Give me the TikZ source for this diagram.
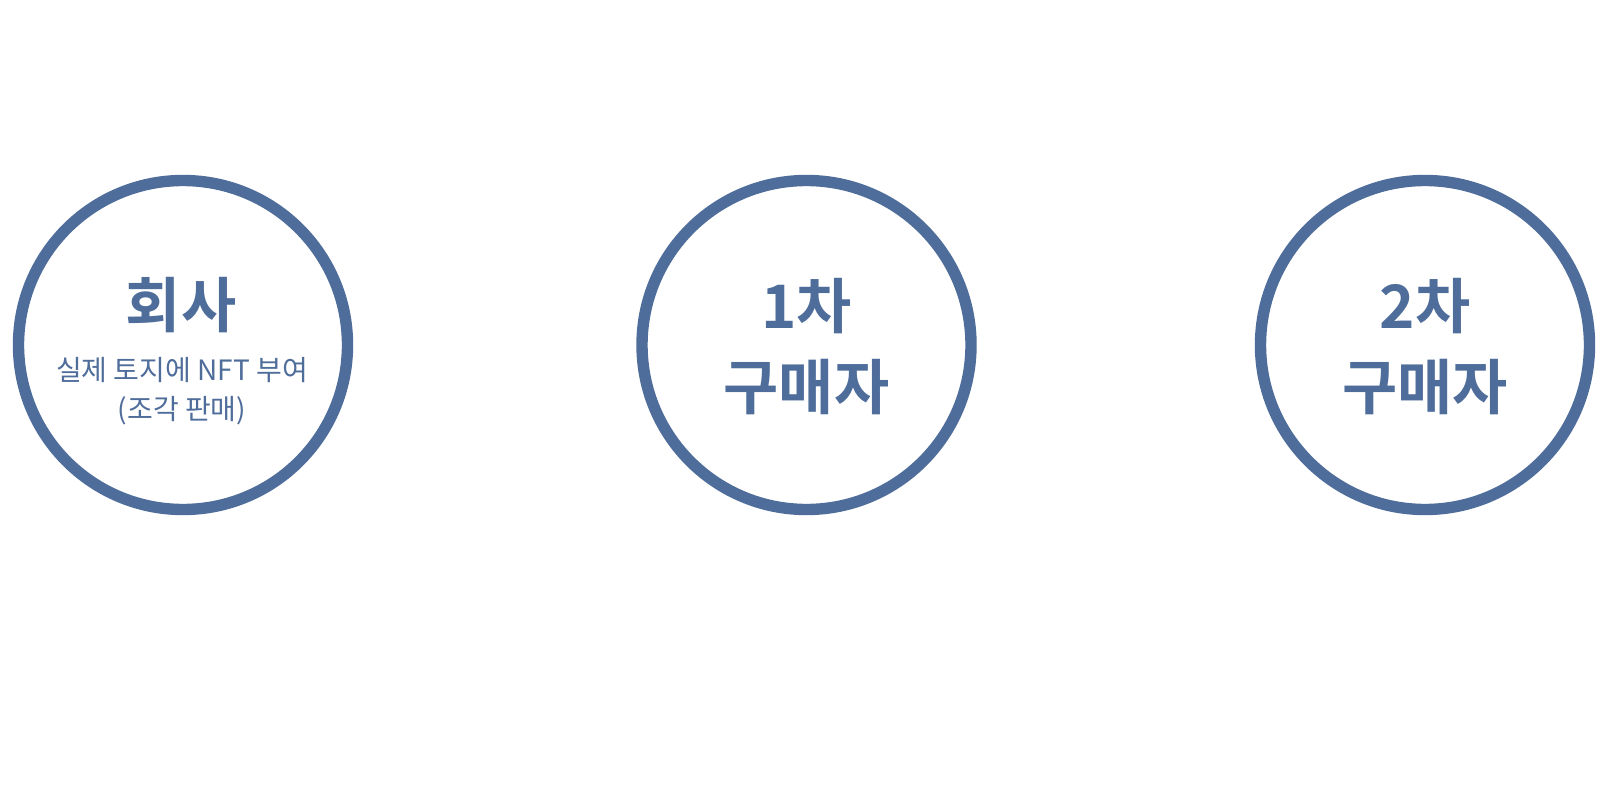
\documentclass[tikz,border=0pt]{standalone}
\usepackage{fontspec}
\newfontfamily\krbold{Noto Sans CJK KR Bold}
\newfontfamily\krreg{Noto Sans CJK KR}
\definecolor{ringblue}{RGB}{79,109,154}
\begin{document}
\begin{tikzpicture}[x=1pt,y=-1pt,
  ring/.style={circle,draw=ringblue,line width=11.4pt,minimum size=329pt,inner sep=0pt},
  title/.style={text=ringblue,align=center,font=\krbold\fontsize{60}{81}\selectfont},
  sub/.style={text=ringblue,align=center,font=\krreg\fontsize{28}{39}\selectfont}]
\useasboundingbox[fill=white] (0,0) rectangle (1606,800);
\node[ring] (c1) at (183,345) {};
\node[ring] (c2) at (806.5,345) {};
\node[ring] (c3) at (1425,345) {};
\node[title] (t1) at (181,305) {회사};
\node[sub] (s1) at (182,391) {실제 토지에 NFT 부여\\(조각 판매)};
\node[title] (t2) at (806.5,347) {1차\\구매자};
\node[title] (t3) at (1425,347) {2차\\구매자};
\end{tikzpicture}
\end{document}
